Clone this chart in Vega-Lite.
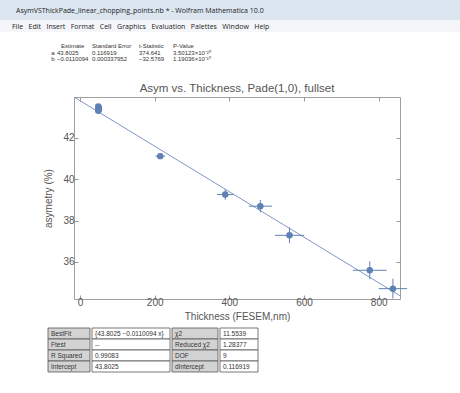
{
  "$schema": "https://vega.github.io/schema/vega-lite/v6.json",
  "padding": 0,
  "background": "white",
  "spacing": 0,
  "config": {
    "font": "Liberation Sans",
    "view": {"stroke": null},
    "axis": {"grid": false, "domain": false, "labelFont": "Liberation Sans", "titleFont": "Liberation Sans", "labelColor": "#555555", "titleColor": "#555555", "labelFontSize": 10, "titleFontSize": 10, "titleFontWeight": "normal", "tickColor": "#999999"},
    "title": {"font": "Liberation Sans", "fontWeight": "normal"}
  },
  "datasets": {
    "pts": [
      {"thickness": 49, "asym": 43.52, "t_lo": 46, "t_hi": 52, "a_lo": 43.44, "a_hi": 43.60},
      {"thickness": 50, "asym": 43.47, "t_lo": 47, "t_hi": 53, "a_lo": 43.39, "a_hi": 43.55},
      {"thickness": 51, "asym": 43.41, "t_lo": 48, "t_hi": 54, "a_lo": 43.33, "a_hi": 43.49},
      {"thickness": 50, "asym": 43.36, "t_lo": 47, "t_hi": 53, "a_lo": 43.28, "a_hi": 43.44},
      {"thickness": 49, "asym": 43.32, "t_lo": 46, "t_hi": 52, "a_lo": 43.24, "a_hi": 43.40},
      {"thickness": 215, "asym": 41.12, "t_lo": 202, "t_hi": 228, "a_lo": 40.98, "a_hi": 41.26},
      {"thickness": 389, "asym": 39.26, "t_lo": 367, "t_hi": 411, "a_lo": 39.01, "a_hi": 39.51},
      {"thickness": 483, "asym": 38.70, "t_lo": 452, "t_hi": 514, "a_lo": 38.40, "a_hi": 39.00},
      {"thickness": 561, "asym": 37.29, "t_lo": 522, "t_hi": 600, "a_lo": 36.91, "a_hi": 37.67},
      {"thickness": 776, "asym": 35.60, "t_lo": 731, "t_hi": 821, "a_lo": 35.17, "a_hi": 36.03},
      {"thickness": 838, "asym": 34.71, "t_lo": 800, "t_hi": 876, "a_lo": 34.23, "a_hi": 35.19}
    ],
    "fit": [
      {"thickness": -16, "asym": 43.979},
      {"thickness": 857, "asym": 34.368}
    ],
    "reg": [
      {"kind": "header", "row": "h", "col": "c1", "txt": "Estimate"},
      {"kind": "header", "row": "h", "col": "c2", "txt": "Standard Error"},
      {"kind": "header", "row": "h", "col": "c3", "txt": "t-Statistic"},
      {"kind": "header", "row": "h", "col": "c4", "txt": "P-Value"},
      {"kind": "label", "row": "a", "col": "lab", "txt": "a"},
      {"kind": "value", "row": "a", "col": "c1", "txt": "43.8025"},
      {"kind": "value", "row": "a", "col": "c2", "txt": "0.116919"},
      {"kind": "value", "row": "a", "col": "c3", "txt": "374.641"},
      {"kind": "value", "row": "a", "col": "c4", "txt": "3.50123×10⁻²⁰"},
      {"kind": "label", "row": "b", "col": "lab", "txt": "b"},
      {"kind": "value", "row": "b", "col": "c1", "txt": "−0.0110094"},
      {"kind": "value", "row": "b", "col": "c2", "txt": "0.000337952"},
      {"kind": "value", "row": "b", "col": "c3", "txt": "−32.5769"},
      {"kind": "value", "row": "b", "col": "c4", "txt": "1.19036×10⁻¹⁰"}
    ],
    "stats": [
      {"row": 1, "col": 1, "txt": "BestFit"},
      {"row": 1, "col": 2, "txt": "{43.8025 −0.0110094 x}"},
      {"row": 1, "col": 3, "txt": "χ2"},
      {"row": 1, "col": 4, "txt": "11.5539"},
      {"row": 2, "col": 1, "txt": "Ftest"},
      {"row": 2, "col": 2, "txt": "--"},
      {"row": 2, "col": 3, "txt": "Reduced χ2"},
      {"row": 2, "col": 4, "txt": "1.28377"},
      {"row": 3, "col": 1, "txt": "R Squared"},
      {"row": 3, "col": 2, "txt": "0.99083"},
      {"row": 3, "col": 3, "txt": "DOF"},
      {"row": 3, "col": 4, "txt": "9"},
      {"row": 4, "col": 1, "txt": "Intercept"},
      {"row": 4, "col": 2, "txt": "43.8025"},
      {"row": 4, "col": 3, "txt": "dIntercept"},
      {"row": 4, "col": 4, "txt": "0.116919"}
    ]
  },
  "vconcat": [
    {
      "width": 460, "height": 20,
      "view": {"fill": "#DCE6F1", "stroke": null},
      "title": {"text": "AsymVSThickPade_linear_chopping_points.nb * - Wolfram Mathematica 10.0", "anchor": "start", "fontSize": 7, "font": "Open Sans", "color": "#222222", "offset": -14, "dx": 16},
      "data": {"values": [{}]},
      "mark": "text",
      "encoding": {}
    },
    {
      "width": 460, "height": 12,
      "view": {"fill": "#F4F6F9", "stroke": null},
      "title": {"text": "File\u00a0\u00a0 Edit\u00a0\u00a0 Insert\u00a0\u00a0 Format\u00a0\u00a0 Cell\u00a0\u00a0 Graphics\u00a0\u00a0 Evaluation\u00a0\u00a0 Palettes\u00a0\u00a0 Window\u00a0\u00a0 Help", "anchor": "start", "fontSize": 7, "font": "Open Sans", "color": "#222222", "offset": -10, "dx": 12},
      "data": {"values": [{}]},
      "mark": "text",
      "encoding": {}
    },
    {
      "hconcat": [
        {"width": 50, "height": 50, "data": {"values": [{}]}, "mark": "text", "encoding": {}},
        {
          "width": 7, "height": 50,
          "data": {"name": "reg"},
          "transform": [{"filter": "datum.col == 'lab'"}],
          "mark": {"type": "text", "align": "right", "baseline": "middle", "dx": 1, "fontSize": 6, "color": "#333333"},
          "encoding": {
            "y": {"field": "row", "type": "nominal", "scale": {"type": "point", "domain": ["h", "a", "b"], "range": [11, 30]}, "axis": null},
            "text": {"field": "txt"}
          }
        },
        {
          "width": 35, "height": 50,
          "data": {"name": "reg"},
          "transform": [{"filter": "datum.col == 'c1'"}],
          "layer": [
            {
              "transform": [{"filter": "datum.kind == 'value'"}],
              "mark": {"type": "text", "align": "left", "baseline": "middle", "dx": -17.5, "fontSize": 6, "color": "#333333"},
              "encoding": {
                "y": {"field": "row", "type": "nominal", "scale": {"type": "point", "domain": ["h", "a", "b"], "range": [11, 30]}, "axis": null},
                "text": {"field": "txt"}
              }
            },
            {
              "transform": [{"filter": "datum.kind == 'header'"}],
              "mark": {"type": "text", "align": "left", "baseline": "middle", "dx": -13.5, "fontSize": 6, "color": "#333333"},
              "encoding": {
                "y": {"field": "row", "type": "nominal", "scale": {"type": "point", "domain": ["h", "a", "b"], "range": [11, 30]}, "axis": null},
                "text": {"field": "txt"}
              }
            }
          ]
        },
        {
          "width": 47, "height": 50,
          "data": {"name": "reg"},
          "transform": [{"filter": "datum.col == 'c2'"}],
          "mark": {"type": "text", "align": "left", "baseline": "middle", "dx": -23.5, "fontSize": 6, "color": "#333333"},
          "encoding": {
            "y": {"field": "row", "type": "nominal", "scale": {"type": "point", "domain": ["h", "a", "b"], "range": [11, 30]}, "axis": null},
            "text": {"field": "txt"}
          }
        },
        {
          "width": 34, "height": 50,
          "data": {"name": "reg"},
          "transform": [{"filter": "datum.col == 'c3'"}],
          "mark": {"type": "text", "align": "left", "baseline": "middle", "dx": -17, "fontSize": 6, "color": "#333333"},
          "encoding": {
            "y": {"field": "row", "type": "nominal", "scale": {"type": "point", "domain": ["h", "a", "b"], "range": [11, 30]}, "axis": null},
            "text": {"field": "txt"}
          }
        },
        {
          "width": 50, "height": 50,
          "data": {"name": "reg"},
          "transform": [{"filter": "datum.col == 'c4'"}],
          "mark": {"type": "text", "align": "left", "baseline": "middle", "dx": -25, "fontSize": 6, "color": "#333333"},
          "encoding": {
            "y": {"field": "row", "type": "nominal", "scale": {"type": "point", "domain": ["h", "a", "b"], "range": [11, 30]}, "axis": null},
            "text": {"field": "txt"}
          }
        }
      ],
      "spacing": 0
    },
    {
      "hconcat": [
        {"width": 43, "height": 1, "data": {"values": [{}]}, "mark": "text", "encoding": {}},
        {
          "width": 326, "height": 202,
          "title": {"text": "Asym vs. Thickness, Pade(1,0), fullset", "fontSize": 11.5, "color": "#555555", "offset": 2},
          "view": {"stroke": "#A0A0A0"},
          "layer": [
            {
              "data": {"name": "fit"},
              "mark": {"type": "line", "color": "#7F97C3", "strokeWidth": 1, "clip": true},
              "encoding": {
                "x": {"field": "thickness", "type": "quantitative", "scale": {"domain": [-16, 857], "nice": false, "zero": false}, "axis": {"orient": "bottom", "values": [0, 200, 400, 600, 800], "tickSize": -4, "labelPadding": 2, "title": "Thickness (FESEM,nm)", "titlePadding": 4, "titleColor": "#555555"}},
                "y": {"field": "asym", "type": "quantitative", "scale": {"domain": [34.21, 43.98], "nice": false, "zero": false}, "axis": {"orient": "left", "values": [36, 38, 40, 42], "tickSize": -4, "labelPadding": 4, "title": "asymetry (%)", "titlePadding": 9, "titleColor": "#555555"}}
              }
            },
            {
              "data": {"name": "pts"},
              "mark": {"type": "rule", "color": "#5E81B5", "strokeWidth": 1},
              "encoding": {
                "x": {"field": "t_lo", "type": "quantitative", "scale": {"domain": [-16, 857], "nice": false, "zero": false}, "axis": null},
                "x2": {"field": "t_hi"},
                "y": {"field": "asym", "type": "quantitative", "scale": {"domain": [34.21, 43.98], "nice": false, "zero": false}, "axis": null}
              }
            },
            {
              "data": {"name": "pts"},
              "mark": {"type": "rule", "color": "#5E81B5", "strokeWidth": 1},
              "encoding": {
                "x": {"field": "thickness", "type": "quantitative", "scale": {"domain": [-16, 857], "nice": false, "zero": false}, "axis": null},
                "y": {"field": "a_lo", "type": "quantitative", "scale": {"domain": [34.21, 43.98], "nice": false, "zero": false}, "axis": null},
                "y2": {"field": "a_hi"}
              }
            },
            {
              "data": {"name": "pts"},
              "mark": {"type": "circle", "size": 42, "color": "#5E81B5", "opacity": 1},
              "encoding": {
                "x": {"field": "thickness", "type": "quantitative", "scale": {"domain": [-16, 857], "nice": false, "zero": false}, "axis": {"orient": "top", "values": [0, 200, 400, 600, 800], "tickSize": -4, "labels": false, "title": null}},
                "y": {"field": "asym", "type": "quantitative", "scale": {"domain": [34.21, 43.98], "nice": false, "zero": false}, "axis": {"orient": "right", "values": [36, 38, 40, 42], "tickSize": -4, "labels": false, "title": null}}
              }
            }
          ],
          "resolve": {"axis": {"x": "independent", "y": "independent"}}
        }
      ],
      "spacing": 0
    },
    {
      "hconcat": [
        {"width": 47, "height": 1, "data": {"values": [{}]}, "mark": "text", "encoding": {}},
        {
          "width": 42, "height": 44,
          "data": {"name": "stats"},
          "transform": [{"filter": "datum.col == 1"}],
          "layer": [
            {"mark": {"type": "rect", "fill": "#D3D3D3", "stroke": "#555555", "strokeWidth": 0.8}, "encoding": {"y": {"field": "row", "type": "ordinal", "scale": {"paddingInner": 0, "paddingOuter": 0}, "axis": null}}},
            {"mark": {"type": "text", "align": "left", "baseline": "middle", "dx": -18, "fontSize": 6.5, "color": "#333333"}, "encoding": {"y": {"field": "row", "type": "ordinal", "scale": {"paddingInner": 0, "paddingOuter": 0}, "axis": null}, "text": {"field": "txt"}}}
          ]
        },
        {
          "width": 78, "height": 44,
          "data": {"name": "stats"},
          "transform": [{"filter": "datum.col == 2"}],
          "layer": [
            {"mark": {"type": "rect", "fill": "#FFFFFF", "stroke": "#555555", "strokeWidth": 0.8}, "encoding": {"y": {"field": "row", "type": "ordinal", "scale": {"paddingInner": 0, "paddingOuter": 0}, "axis": null}}},
            {"mark": {"type": "text", "align": "left", "baseline": "middle", "dx": -36, "fontSize": 6.5, "color": "#333333"}, "encoding": {"y": {"field": "row", "type": "ordinal", "scale": {"paddingInner": 0, "paddingOuter": 0}, "axis": null}, "text": {"field": "txt"}}}
          ]
        },
        {
          "width": 46, "height": 44,
          "data": {"name": "stats"},
          "transform": [{"filter": "datum.col == 3"}],
          "layer": [
            {"mark": {"type": "rect", "fill": "#D3D3D3", "stroke": "#555555", "strokeWidth": 0.8}, "encoding": {"y": {"field": "row", "type": "ordinal", "scale": {"paddingInner": 0, "paddingOuter": 0}, "axis": null}}},
            {"mark": {"type": "text", "align": "left", "baseline": "middle", "dx": -20, "fontSize": 6.5, "color": "#333333"}, "encoding": {"y": {"field": "row", "type": "ordinal", "scale": {"paddingInner": 0, "paddingOuter": 0}, "axis": null}, "text": {"field": "txt"}}}
          ]
        },
        {
          "width": 38, "height": 44,
          "data": {"name": "stats"},
          "transform": [{"filter": "datum.col == 4"}],
          "layer": [
            {"mark": {"type": "rect", "fill": "#FFFFFF", "stroke": "#555555", "strokeWidth": 0.8}, "encoding": {"y": {"field": "row", "type": "ordinal", "scale": {"paddingInner": 0, "paddingOuter": 0}, "axis": null}}},
            {"mark": {"type": "text", "align": "left", "baseline": "middle", "dx": -16, "fontSize": 6.5, "color": "#333333"}, "encoding": {"y": {"field": "row", "type": "ordinal", "scale": {"paddingInner": 0, "paddingOuter": 0}, "axis": null}, "text": {"field": "txt"}}}
          ]
        }
      ],
      "spacing": 0
    }
  ]
}
